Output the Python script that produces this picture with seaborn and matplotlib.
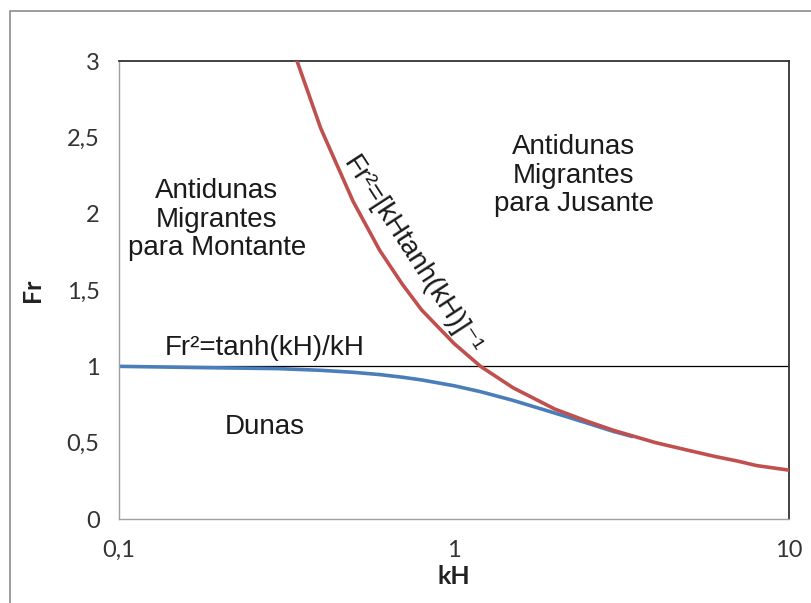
import matplotlib
matplotlib.use("Agg")
import matplotlib.pyplot as plt
import matplotlib.ticker as mticker
from matplotlib.patches import Rectangle
import seaborn as sns
import pandas as pd

# Fr limit for upstream/downstream migrating antidunes: Fr^2 = [kH tanh(kH)]^-1
kh_upper = [0.34, 0.4, 0.5, 0.6, 0.7, 0.8, 1.0, 1.2, 1.5, 2.0, 2.5, 3.0, 4.0, 5.0, 6.0, 7.0, 8.0, 10.0]
fr_upper = [3.00, 2.56, 2.08, 1.76, 1.54, 1.37, 1.15, 1.00, 0.86, 0.72, 0.64, 0.58, 0.50, 0.45, 0.41, 0.38, 0.35, 0.32]

# Fr limit for dunes: Fr^2 = tanh(kH)/kH
kh_lower = [0.1, 0.2, 0.3, 0.4, 0.5, 0.6, 0.7, 0.8, 1.0, 1.2, 1.5, 2.0, 2.5, 3.0, 3.4]
fr_lower = [1.00, 0.99, 0.985, 0.974, 0.961, 0.946, 0.929, 0.911, 0.873, 0.834, 0.777, 0.694, 0.628, 0.573, 0.541]

x_ticks = [0.1, 1, 10]
y_ticks = [0, 0.5, 1, 1.5, 2, 2.5, 3]

sns.set_style("white")
plt.rcParams["font.family"] = ["Liberation Sans", "DejaVu Sans"]

RED = "#C0504D"
BLUE = "#4A7EBB"
TICK_FONT = ["Lato", "DejaVu Sans"]

fig = plt.figure(figsize=(8.11, 6.03), dpi=100)
ax = fig.add_axes([0.1467, 0.1393, 0.8262, 0.7595])

# outer frame around the chart
fig.patches.append(Rectangle((10 / 811, -0.05), 1.2, 1 - 11 / 603 + 0.05,
                             transform=fig.transFigure, fill=False,
                             edgecolor="#8c8c8c", linewidth=1.2, zorder=0))

ax.axhline(1, color="black", linewidth=0.9, zorder=1)

upper = pd.DataFrame({"kH": kh_upper, "Fr": fr_upper})
lower = pd.DataFrame({"kH": kh_lower, "Fr": fr_lower})
sns.lineplot(data=lower, x="kH", y="Fr", ax=ax, color=BLUE, linewidth=2.6, zorder=2)
sns.lineplot(data=upper, x="kH", y="Fr", ax=ax, color=RED, linewidth=2.6, zorder=3)

ax.set_xscale("log")
ax.set_xlim(0.1, 10)
ax.set_ylim(0, 3)

comma = mticker.FuncFormatter(lambda v, _: (f"{v:g}").replace(".", ","))
ax.xaxis.set_major_locator(mticker.FixedLocator(x_ticks))
ax.xaxis.set_major_formatter(comma)
ax.xaxis.set_minor_locator(mticker.LogLocator(base=10, subs=range(2, 10)))
ax.xaxis.set_minor_formatter(mticker.NullFormatter())
ax.yaxis.set_major_locator(mticker.FixedLocator(y_ticks))
ax.yaxis.set_major_formatter(comma)

ax.tick_params(axis="x", which="both", direction="in", length=9, width=0.9,
               color="#9a9a9a", pad=15, labelsize=17, labelcolor="#333333")
ax.tick_params(axis="y", which="major", direction="in", length=9, width=0.9,
               color="#9a9a9a", pad=14, labelsize=17, labelcolor="#333333")
for lab in ax.get_xticklabels() + ax.get_yticklabels():
    lab.set_fontfamily(TICK_FONT)

for side in ("left", "bottom"):
    ax.spines[side].set_color("#a0a0a0")
    ax.spines[side].set_linewidth(1.0)
for side in ("top", "right"):
    ax.spines[side].set_visible(True)
    ax.spines[side].set_color("#333333")
    ax.spines[side].set_linewidth(1.3)

ax.set_xlabel("kH", fontsize=18, fontweight="bold", fontfamily=TICK_FONT,
              color="#222222", labelpad=3)
ax.set_ylabel("Fr", fontsize=18, fontweight="bold", fontfamily=TICK_FONT,
              color="#222222", labelpad=16)

txt = dict(fontsize=20, color="#1a1a1a", ha="center", va="center", linespacing=1.12)
ax.text(0.196, 1.96, "Antidunas\nMigrantes\npara Montante", **txt)
ax.text(2.28, 2.25, "Antidunas\nMigrantes\npara Jusante", **txt)
ax.text(0.273, 1.12, "Fr²=tanh(kH)/kH", **txt)
ax.text(0.273, 0.60, "Dunas", **txt)
ax.text(0.75, 1.72, "Fr²=[kHtanh(kH)]⁻¹", rotation=-57,
        rotation_mode="anchor", **txt)

fig.savefig("out.png", dpi=100)
